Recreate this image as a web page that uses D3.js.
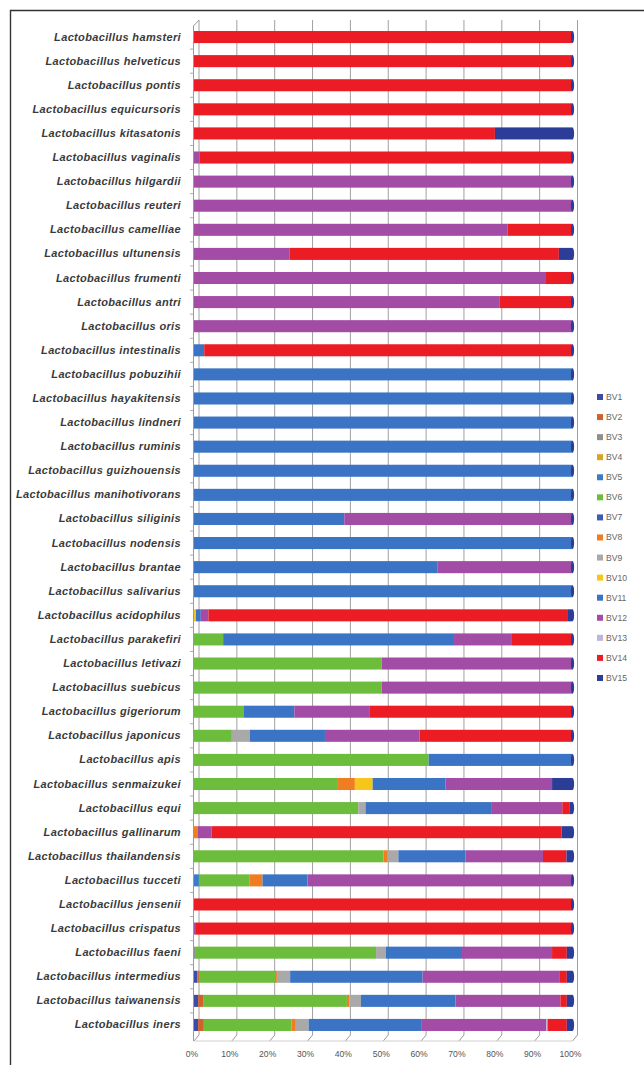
<!DOCTYPE html>
<html>
<head>
<meta charset="utf-8">
<script src="https://cdn.jsdelivr.net/npm/d3@7"></script>
<style>
  body { margin: 0; background: #fff; }
  .canvas { width: 644px; height: 1065px; }
  .label { font-family: 'Liberation Sans', Arial, sans-serif; font-style: italic; font-weight: bold; font-size: 11px; letter-spacing: 0.35px; fill: #3a3a3a; }
  .tick-label { font-family: 'Liberation Sans', Arial, sans-serif; font-size: 8.6px; fill: #555; }
  .legend-label { font-family: 'Liberation Sans', Arial, sans-serif; font-size: 8.6px; fill: #666; }
</style>
</head>
<body>
<div class="canvas"></div>
<script>
// species, top to bottom
const species = [
  'hamsteri', 'helveticus', 'pontis', 'equicursoris', 'kitasatonis', 'vaginalis',
  'hilgardii', 'reuteri', 'camelliae', 'ultunensis', 'frumenti', 'antri', 'oris',
  'intestinalis', 'pobuzihii', 'hayakitensis', 'lindneri', 'ruminis', 'guizhouensis',
  'manihotivorans', 'siliginis', 'nodensis', 'brantae', 'salivarius', 'acidophilus',
  'parakefiri', 'letivazi', 'suebicus', 'gigeriorum', 'japonicus', 'apis',
  'senmaizukei', 'equi', 'gallinarum', 'thailandensis', 'tucceti', 'jensenii',
  'crispatus', 'faeni', 'intermedius', 'taiwanensis', 'iners'
];

const seriesNames = ['BV1', 'BV2', 'BV3', 'BV4', 'BV5', 'BV6', 'BV7', 'BV8',
  'BV9', 'BV10', 'BV11', 'BV12', 'BV13', 'BV14', 'BV15'];

const seriesColors = ['#3d4aa6', '#d0612c', '#8f8f8f', '#d8a522', '#3b7cc6', '#6dbd3d',
  '#3a5cb5', '#f07d22', '#a9a9a9', '#f6c61a', '#3b74c4', '#a24ca6', '#bdb5de',
  '#ec1c24', '#2c3d98'];

const xTicks = ['0%', '10%', '20%', '30%', '40%', '50%', '60%', '70%', '80%', '90%', '100%'];

// share of each BV (BV1 ... BV15) per species, %
const shares = [
  [0, 0, 0, 0, 0, 0, 0, 0, 0, 0, 0, 0, 0, 100, 0],
  [0, 0, 0, 0, 0, 0, 0, 0, 0, 0, 0, 0, 0, 100, 0],
  [0, 0, 0, 0, 0, 0, 0, 0, 0, 0, 0, 0, 0, 100, 0],
  [0, 0, 0, 0, 0, 0, 0, 0, 0, 0, 0, 0, 0, 100, 0],
  [0, 0, 0, 0, 0, 0, 0, 0, 0, 0, 0, 0, 0, 79.5, 20.5],
  [0, 0, 0, 0, 0, 0, 0, 0, 0, 0, 0, 1.5, 0, 98.5, 0],
  [0, 0, 0, 0, 0, 0, 0, 0, 0, 0, 0, 100, 0, 0, 0],
  [0, 0, 0, 0, 0, 0, 0, 0, 0, 0, 0, 100, 0, 0, 0],
  [0, 0, 0, 0, 0, 0, 0, 0, 0, 0, 0, 82.8, 0, 17.2, 0],
  [0, 0, 0, 0, 0, 0, 0, 0, 0, 0, 0, 25.2, 0, 71.2, 3.6],
  [0, 0, 0, 0, 0, 0, 0, 0, 0, 0, 0, 93, 0, 7, 0],
  [0, 0, 0, 0, 0, 0, 0, 0, 0, 0, 0, 80.8, 0, 19.2, 0],
  [0, 0, 0, 0, 0, 0, 0, 0, 0, 0, 0, 100, 0, 0, 0],
  [0, 0, 0, 0, 0, 0, 0, 0, 0, 0, 2.7, 0, 0, 97.3, 0],
  [0, 0, 0, 0, 0, 0, 0, 0, 0, 0, 100, 0, 0, 0, 0],
  [0, 0, 0, 0, 0, 0, 0, 0, 0, 0, 100, 0, 0, 0, 0],
  [0, 0, 0, 0, 0, 0, 0, 0, 0, 0, 100, 0, 0, 0, 0],
  [0, 0, 0, 0, 0, 0, 0, 0, 0, 0, 100, 0, 0, 0, 0],
  [0, 0, 0, 0, 0, 0, 0, 0, 0, 0, 100, 0, 0, 0, 0],
  [0, 0, 0, 0, 0, 0, 0, 0, 0, 0, 100, 0, 0, 0, 0],
  [0, 0, 0, 0, 0, 0, 0, 0, 0, 0, 39.7, 60.3, 0, 0, 0],
  [0, 0, 0, 0, 0, 0, 0, 0, 0, 0, 100, 0, 0, 0, 0],
  [0, 0, 0, 0, 0, 0, 0, 0, 0, 0, 64.4, 35.6, 0, 0, 0],
  [0, 0, 0, 0, 0, 0, 0, 0, 0, 0, 100, 0, 0, 0, 0],
  [0, 0, 0, 0, 0, 0, 0, 0, 0, 0.5, 1.3, 2, 0, 95, 1.2],
  [0, 0, 0, 0, 0, 7.7, 0, 0, 0, 0, 61, 15.3, 0, 16, 0],
  [0, 0, 0, 0, 0, 49.6, 0, 0, 0, 0, 0, 50.4, 0, 0, 0],
  [0, 0, 0, 0, 0, 49.6, 0, 0, 0, 0, 0, 50.4, 0, 0, 0],
  [0, 0, 0, 0, 0, 13.2, 0, 0, 0, 0, 13.3, 19.8, 0, 53.7, 0],
  [0, 0, 0, 0, 0, 10, 0, 0, 4.7, 0, 19.9, 25, 0, 40.4, 0],
  [0, 0, 0, 0, 0, 62, 0, 0, 0, 0, 38, 0, 0, 0, 0],
  [0, 0, 0, 0, 0, 37.8, 0, 4.7, 0, 4.7, 19.2, 28.2, 0, 0, 5.4],
  [0, 0, 0, 0, 0, 43.4, 0, 0, 1.9, 0, 33.4, 18.6, 0, 2, 0.7],
  [0, 0, 0, 0, 0, 0, 0, 0.9, 0, 0, 0, 3.7, 0, 92.5, 2.9],
  [0, 0, 0, 0, 0, 50.1, 0, 1.1, 2.8, 0, 17.7, 20.5, 0, 6.2, 1.6],
  [0, 0, 0, 0, 1.3, 13.3, 0, 3.5, 0, 0, 11.9, 70, 0, 0, 0],
  [0, 0, 0, 0, 0, 0, 0, 0, 0, 0, 0, 0, 0, 100, 0],
  [0, 0, 0, 0, 0, 0, 0, 0, 0, 0, 0, 0.3, 0, 99.7, 0],
  [0, 0, 0.5, 0, 0, 47.6, 0, 0, 2.6, 0, 20.1, 23.8, 0, 3.9, 1.5],
  [0.9, 0.4, 0, 0, 0, 20.1, 0, 0.5, 3.5, 0, 35, 36.1, 0, 2, 1.5],
  [1.1, 1.3, 0, 0, 0, 38, 0, 0.6, 3.1, 0, 25, 27.7, 0, 1.7, 1.5],
  [1.1, 1.5, 0, 0, 0, 23.2, 0, 1.1, 3.4, 0, 29.9, 32.9, 0.3, 5.1, 1.5]
];

let width = 644, height = 1065;
let plotL = 194, plotR = 572.5, plotT = 25, plotB = 1037;
let depthX = 5, depthY = 6;   // fake 3d offset of the back wall

const rows = species.map((s, i) => {
  let row = { name: 'Lactobacillus ' + s };
  seriesNames.forEach((k, j) => row[k] = shares[i][j]);
  return row;
});

const stacked = d3.stack()
  .keys(seriesNames)
  .offset(d3.stackOffsetExpand)(rows);

const svg = d3.select('.canvas')
  .append('svg')
  .attr('width', width)
  .attr('height', height);

const xScale = d3.scaleLinear().domain([0, 1]).range([plotL, plotR]);
const yScale = d3.scaleBand()
  .domain(rows.map(d => d.name))
  .range([plotT, plotB])
  .paddingInner(0.5)
  .paddingOuter(0.25);

// frame round the figure
svg.append('path')
  .attr('d', `M10.5,${height} V10.5 H${width}`)
  .attr('fill', 'none')
  .attr('stroke', '#333')
  .attr('stroke-width', 1.4);

// back wall grid
const grid = svg.append('g');
grid.selectAll('line.grid')
  .data(xScale.ticks(10))
  .enter()
  .append('line')
  .attr('x1', d => xScale(d) + depthX)
  .attr('x2', d => xScale(d) + depthX)
  .attr('y1', 20)
  .attr('y2', plotB + 4 - depthY)
  .attr('stroke', '#a0a0a0')
  .attr('stroke-width', 1);

// floor: slanted ticks from back wall to front edge
grid.selectAll('line.floor')
  .data(xScale.ticks(10))
  .enter()
  .append('line')
  .attr('x1', d => xScale(d) + depthX)
  .attr('y1', plotB + 4 - depthY)
  .attr('x2', d => xScale(d))
  .attr('y2', plotB + 4)
  .attr('stroke', '#9a9a9a');

grid.append('line')
  .attr('x1', plotL).attr('x2', plotR)
  .attr('y1', plotB + 4).attr('y2', plotB + 4)
  .attr('stroke', '#d0d0d0');

// left wall
grid.append('line')
  .attr('x1', plotL - 0.5).attr('x2', plotL - 0.5)
  .attr('y1', 26).attr('y2', plotB + 4)
  .attr('stroke', '#9a9a9a');
grid.append('line')
  .attr('x1', plotL - 0.5).attr('y1', 26)
  .attr('x2', plotL + depthX).attr('y2', 20)
  .attr('stroke', '#9a9a9a');

const yAxis = d3.axisLeft(yScale).tickSize(0).tickPadding(0);
svg.append('g')
  .selectAll('line.rowtick')
  .data(rows.slice(1))
  .enter()
  .append('line')
  .attr('x1', plotL - 4).attr('x2', plotL - 0.5)
  .attr('y1', d => yScale(d.name) - yScale.step() * 0.25)
  .attr('y2', d => yScale(d.name) - yScale.step() * 0.25)
  .attr('stroke', '#aaa');

// bars
svg.append('g')
  .selectAll('g')
  .data(stacked)
  .enter()
  .append('g')
  .attr('fill', (d, i) => seriesColors[i])
  .selectAll('rect')
  .data(d => d.filter(p => p[1] - p[0] > 0))
  .enter()
  .append('rect')
  .attr('x', d => xScale(d[0]))
  .attr('y', d => yScale(d.data.name))
  .attr('width', d => xScale(d[1]) - xScale(d[0]))
  .attr('height', yScale.bandwidth());

// end face of each bar
svg.append('g')
  .selectAll('ellipse')
  .data(rows)
  .enter()
  .append('ellipse')
  .attr('cx', xScale(1))
  .attr('cy', d => yScale(d.name) + yScale.bandwidth() / 2)
  .attr('rx', 1.6)
  .attr('ry', yScale.bandwidth() / 2)
  .attr('fill', '#2c3d98');

// category labels
svg.append('g')
  .attr('transform', `translate(${plotL - 13},0)`)
  .call(yAxis)
  .call(g => g.select('.domain').remove())
  .call(g => g.selectAll('text').attr('class', 'label'));

// x labels
svg.append('g')
  .selectAll('text')
  .data(xScale.ticks(10))
  .enter()
  .append('text')
  .attr('class', 'tick-label')
  .attr('x', d => xScale(d) - 2)
  .attr('y', 1057)
  .attr('text-anchor', 'middle')
  .text((d, i) => xTicks[i]);

// legend
const legend = svg.append('g')
  .attr('transform', 'translate(597,397)');
const items = legend.selectAll('g')
  .data(seriesNames)
  .enter()
  .append('g')
  .attr('transform', (d, i) => `translate(0,${i * 20.07})`);
items.append('rect')
  .attr('x', 0).attr('y', -3)
  .attr('width', 6).attr('height', 6)
  .attr('fill', (d, i) => seriesColors[i]);
items.append('text')
  .attr('class', 'legend-label')
  .attr('x', 9).attr('y', 3)
  .text(d => d);
</script>
</body>
</html>
